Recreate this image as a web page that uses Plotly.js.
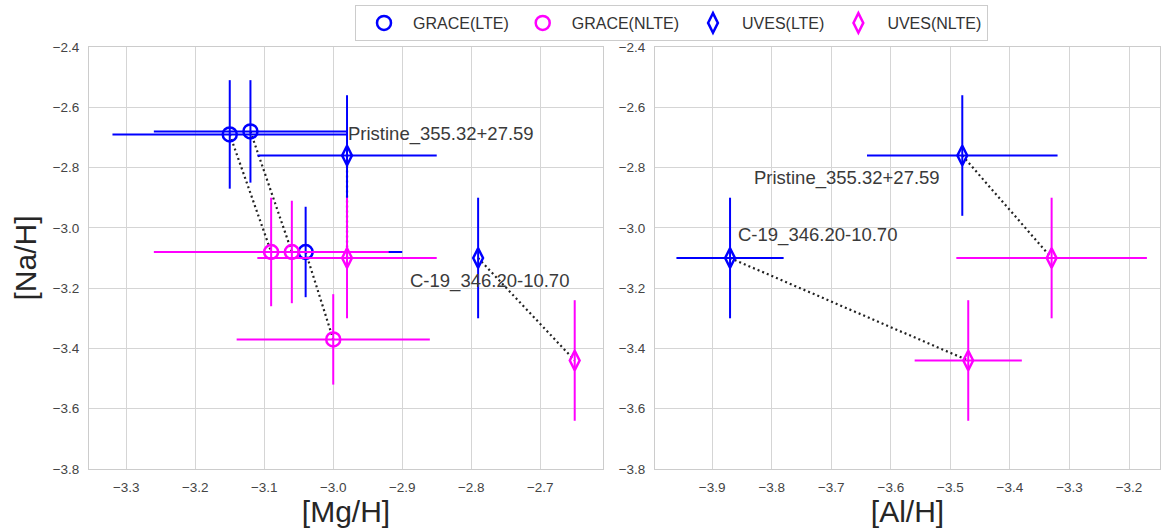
<!DOCTYPE html>
<html>
<head>
<meta charset="utf-8">
<script src="https://cdn.plot.ly/plotly-3.0.1.min.js"></script>
<style>html,body{margin:0;padding:0;background:#fff;}#chart{width:1165px;height:530px;}</style>
</head>
<body>
<div id="chart"></div>
<script>
// ---- data ----
// GRACE stars (three stars)
var graceLteMg   = [-3.15, -3.12, -3.04];
var graceLteNa   = [-2.69, -2.68, -3.08];
var graceLteMgErr = [0.17, 0.14, 0.14];
var graceLteNaErr = [0.18, 0.17, 0.15];

var graceNlteMg   = [-3.09, -3.06, -3.00];
var graceNlteNa   = [-3.08, -3.08, -3.37];
var graceNlteMgErr = [0.17, 0.14, 0.14];
var graceNlteNaErr = [0.18, 0.17, 0.15];

// UVES stars: Pristine_355.32+27.59, C-19_346.20-10.70
var uvesStars = ['Pristine_355.32+27.59', 'C-19_346.20-10.70'];
var uvesLteMg    = [-2.98, -2.79];
var uvesLteAl    = [-3.48, -3.87];
var uvesLteNa    = [-2.76, -3.10];
var uvesLteMgErr = [0.13, null];
var uvesLteAlErr = [0.16, 0.09];
var uvesLteNaErr = [0.20, 0.20];

var uvesNlteMg    = [-2.98, -2.65];
var uvesNlteAl    = [-3.33, -3.47];
var uvesNlteNa    = [-3.10, -3.44];
var uvesNlteMgErr = [0.13, null];
var uvesNlteAlErr = [0.16, 0.09];
var uvesNlteNaErr = [0.20, 0.20];

// ---- helpers ----
function connect(a, b) {
  var out = [];
  for (var i = 0; i < a.length; i++) { out.push(a[i], b[i], null); }
  return out;
}
var BLUE = '#0000ff', MAG = '#ff00ff';
var FONT = 'Liberation Sans, Arial, Helvetica, sans-serif';

function errs(arr, color) {
  return {type: 'data', array: arr.map(function(v){return v === null ? NaN : v;}), visible: true,
          color: color, thickness: 2, width: 0};
}
function pts(x, y, ex, ey, color, symbol, name, xa, ya, legend) {
  return {
    type: 'scatter', mode: 'markers', x: x, y: y, name: name,
    xaxis: xa, yaxis: ya, showlegend: legend, legendgroup: name,
    marker: {symbol: symbol, size: 14, color: color, line: {color: color, width: 2.5}},
    error_x: ex ? errs(ex, color) : undefined,
    error_y: errs(ey, color),
    hoverinfo: 'x+y'
  };
}
function dotted(x, y, xa, ya) {
  return {type: 'scatter', mode: 'lines', x: x, y: y, xaxis: xa, yaxis: ya,
          showlegend: false, hoverinfo: 'skip',
          line: {color: '#222222', width: 2.2, dash: '2px,3px'}};
}

var traces = [
  // connectors, left panel
  dotted(connect(graceLteMg, graceNlteMg), connect(graceLteNa, graceNlteNa), 'x', 'y'),
  dotted(connect(uvesLteMg, uvesNlteMg), connect(uvesLteNa, uvesNlteNa), 'x', 'y'),
  // connectors, right panel
  dotted(connect(uvesLteAl, uvesNlteAl), connect(uvesLteNa, uvesNlteNa), 'x2', 'y2'),
  // left panel points
  pts(graceLteMg, graceLteNa, graceLteMgErr, graceLteNaErr, BLUE, 'circle-open', 'GRACE(LTE)', 'x', 'y', true),
  pts(graceNlteMg, graceNlteNa, graceNlteMgErr, graceNlteNaErr, MAG, 'circle-open', 'GRACE(NLTE)', 'x', 'y', true),
  pts(uvesLteMg, uvesLteNa, uvesLteMgErr, uvesLteNaErr, BLUE, 'diamond-tall-open', 'UVES(LTE)', 'x', 'y', true),
  pts(uvesNlteMg, uvesNlteNa, uvesNlteMgErr, uvesNlteNaErr, MAG, 'diamond-tall-open', 'UVES(NLTE)', 'x', 'y', true),
  // right panel points
  pts(uvesLteAl, uvesLteNa, uvesLteAlErr, uvesLteNaErr, BLUE, 'diamond-tall-open', 'UVES(LTE)', 'x2', 'y2', false),
  pts(uvesNlteAl, uvesNlteNa, uvesNlteAlErr, uvesNlteNaErr, MAG, 'diamond-tall-open', 'UVES(NLTE)', 'x2', 'y2', false)
];

function axisBase() {
  return {
    showgrid: true, gridcolor: '#d5d5d5', gridwidth: 1,
    zeroline: false, showline: true, mirror: true, linecolor: '#cccccc', linewidth: 1,
    ticks: 'outside', ticklen: 6, tickcolor: 'rgba(0,0,0,0)',
    tickfont: {family: FONT, size: 13.5, color: '#444444'},
    tickformat: '.1f', automargin: false
  };
}
var xL = axisBase(); xL.domain = [89/1165, 603/1165]; xL.range = [-3.354, -2.609]; xL.dtick = 0.1; xL.tick0 = 0; xL.anchor = 'y';
xL.title = {text: '[Mg/H]', font: {family: FONT, size: 30, color: '#262626'}, standoff: 6};
var xR = axisBase(); xR.domain = [655/1165, 1160/1165]; xR.range = [-3.996, -3.148]; xR.dtick = 0.1; xR.tick0 = 0; xR.anchor = 'y2';
xR.title = {text: '[Al/H]', font: {family: FONT, size: 30, color: '#262626'}, standoff: 6};
var yL = axisBase(); yL.domain = [1 - 469/530, 1 - 47/530]; yL.range = [-3.8, -2.4]; yL.dtick = 0.2; yL.tick0 = 0; yL.anchor = 'x';
yL.title = {text: '[Na/H]', font: {family: FONT, size: 30, color: '#262626'}, standoff: 7};
var yR = axisBase(); yR.domain = yL.domain.slice(); yR.range = [-3.8, -2.4]; yR.dtick = 0.2; yR.tick0 = 0; yR.anchor = 'x2';

var annFont = {family: FONT, size: 18.5, color: '#3a3a3a'};
var layout = {
  width: 1165, height: 530,
  margin: {l: 0, r: 0, t: 0, b: 0},
  paper_bgcolor: '#ffffff', plot_bgcolor: '#ffffff',
  xaxis: xL, yaxis: yL, xaxis2: xR, yaxis2: yR,
  showlegend: true,
  legend: {orientation: 'h', x: 671.5/1165, xanchor: 'center', y: 1 - 5/530, yanchor: 'top',
           itemwidth: 48,
           bordercolor: '#cccccc', borderwidth: 1, bgcolor: '#ffffff',
           font: {family: FONT, size: 16, color: '#333333'}},
  annotations: [
    {xref: 'x', yref: 'y', x: -2.981, y: -2.689, text: uvesStars[0], showarrow: false, xanchor: 'left', yanchor: 'middle', font: annFont},
    {xref: 'x', yref: 'y', x: -2.891, y: -3.175, text: uvesStars[1], showarrow: false, xanchor: 'left', yanchor: 'middle', font: annFont},
    {xref: 'x2', yref: 'y2', x: -3.833, y: -2.836, text: uvesStars[0], showarrow: false, xanchor: 'left', yanchor: 'middle', font: annFont},
    {xref: 'x2', yref: 'y2', x: -3.860, y: -3.024, text: uvesStars[1], showarrow: false, xanchor: 'left', yanchor: 'middle', font: annFont}
  ]
};

Plotly.newPlot('chart', traces, layout, {displayModeBar: false, staticPlot: true});
</script>
</body>
</html>
